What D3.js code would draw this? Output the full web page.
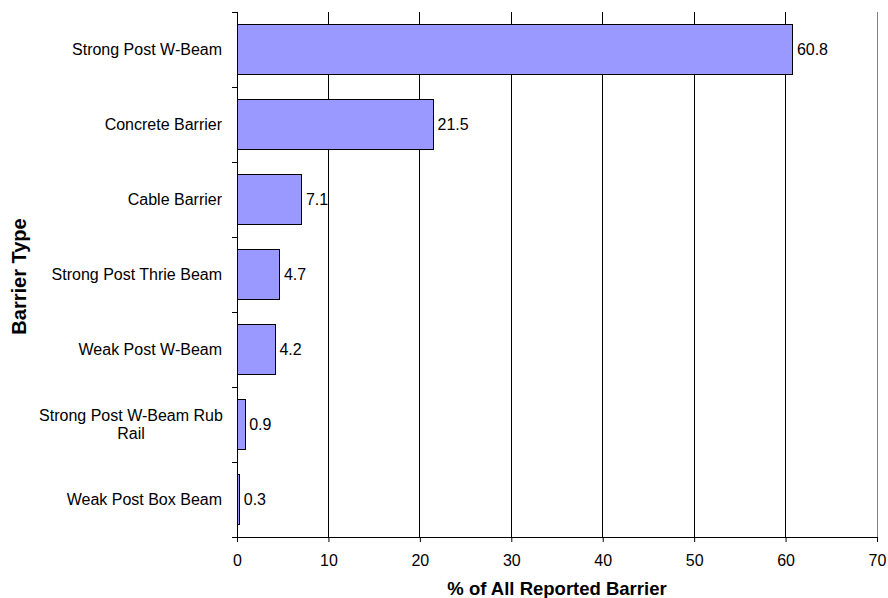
<!DOCTYPE html>
<html><head><meta charset="utf-8">
<script src="https://cdn.jsdelivr.net/npm/d3@7"></script>
<style>body{margin:0;background:#fff}svg{display:block;font-family:Arial,"Liberation Sans",sans-serif}</style>
</head><body><svg id="c" width="888" height="598"></svg>
<script>
const categories = ["Strong Post W-Beam","Concrete Barrier","Cable Barrier","Strong Post Thrie Beam","Weak Post W-Beam","Strong Post W-Beam Rub Rail","Weak Post Box Beam"];
const values = [60.8,21.5,7.1,4.7,4.2,0.9,0.3];
const xTicks = [0,10,20,30,40,50,60,70];
const xTitle = "% of All Reported Barrier";
const yTitle = "Barrier Type";

const svg = d3.select("#c");
const L=237,R=877,T=12,B=537;
const x = d3.scaleLinear().domain([0,70]).range([L,R]);
const y = d3.scaleBand().domain(categories).range([T,B]).paddingInner(1/3).paddingOuter(1/6);

// gridlines
svg.append("g").selectAll("line").data(xTicks.slice(1)).join("line")
  .attr("x1",d=>x(d)).attr("x2",d=>x(d)).attr("y1",T).attr("y2",B)
  .attr("stroke",d=>d===70?"#808080":"#000").attr("stroke-width",1).attr("shape-rendering","crispEdges");

// bars
svg.append("g").selectAll("rect").data(values).join("rect")
  .attr("x",x(0)).attr("y",(d,i)=>y(categories[i]))
  .attr("width",d=>x(d)-x(0)).attr("height",y.bandwidth())
  .attr("fill","#9999FF").attr("stroke","#000").attr("stroke-width",1).attr("shape-rendering","crispEdges");

// value labels
svg.append("g").selectAll("text").data(values).join("text")
  .attr("x",d=>x(d)+4).attr("y",(d,i)=>y(categories[i])+y.bandwidth()/2)
  .attr("dy","0.35em").attr("font-size",16).attr("fill","#000").text(d=>d.toFixed(1));

// x axis
const xa = svg.append("g").attr("transform",`translate(0,${B})`)
  .call(d3.axisBottom(x).tickValues(xTicks).tickSize(5).tickPadding(13));
xa.select(".domain").attr("stroke","#000");
xa.selectAll("line").attr("stroke","#000");
xa.selectAll("text").attr("font-size",16).attr("fill","#000").attr("font-family","Arial, 'Liberation Sans', sans-serif");

// y axis with ticks at band boundaries
svg.append("line").attr("x1",L).attr("x2",L).attr("y1",T).attr("y2",B).attr("stroke","#000").attr("shape-rendering","crispEdges");
const bounds = d3.range(categories.length+1).map(i=>T+i*(B-T)/categories.length);
svg.append("g").selectAll("line").data(bounds).join("line")
  .attr("x1",L-5).attr("x2",L).attr("y1",d=>d).attr("y2",d=>d).attr("stroke","#000").attr("shape-rendering","crispEdges");

// category labels
const cl = svg.append("g").selectAll("text").data(categories).join("text")
  .attr("font-size",16).attr("fill","#000").attr("text-anchor","middle");
cl.each(function(d){
  const t=d3.select(this);
  const cy=y(d)+y.bandwidth()/2;
  if(d==="Strong Post W-Beam Rub Rail"){
    t.attr("x",131).attr("y",cy);
    t.append("tspan").attr("x",131).attr("dy","-0.22em").text("Strong Post W-Beam Rub");
    t.append("tspan").attr("x",131).attr("dy","1.15em").text("Rail");
  } else {
    t.attr("text-anchor","end").attr("x",222).attr("y",cy).attr("dy","0.35em").text(d);
  }
});

svg.append("text").attr("x",x(35)).attr("y",595).attr("text-anchor","middle")
  .attr("font-size",18.5).attr("font-weight","bold").text(xTitle);
svg.append("text").attr("transform",`translate(26,${(T+B)/2+2}) rotate(-90)`).attr("text-anchor","middle")
  .attr("font-size",20).attr("font-weight","bold").text(yTitle);
</script></body></html>
